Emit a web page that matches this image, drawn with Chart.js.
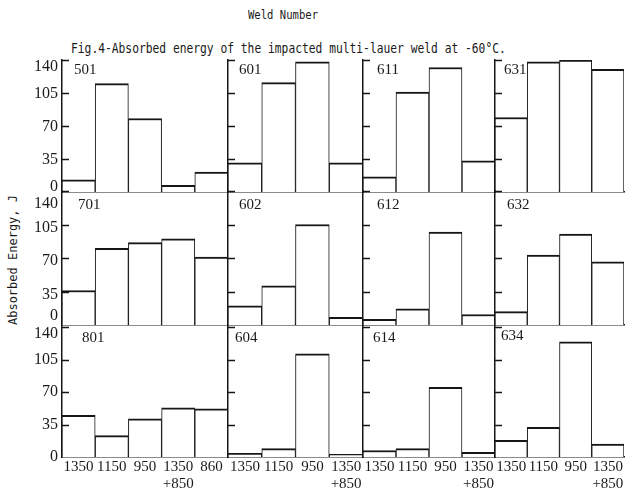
<!DOCTYPE html>
<html>
<head>
<meta charset="utf-8">
<script src="https://cdn.jsdelivr.net/npm/chart.js@4.4.1/dist/chart.umd.min.js"></script>
<style>
  html, body { margin: 0; padding: 0; background: #fff; }
  #fig { position: relative; width: 626px; height: 492px; overflow: hidden; background: #fff; }
  #fig canvas { position: absolute; }
  .txt { position: absolute; white-space: nowrap; color: #1a1a1a; font-family: "DejaVu Sans Mono", monospace; transform-origin: 0 0; }
</style>
</head>
<body>
<div id="fig">
  <div class="txt" id="head" style="font-size:13px;line-height:13px;">Weld Number</div>
  <div class="txt" id="title" style="font-size:14.5px;line-height:14.5px;">Fig.4-Absorbed energy of the impacted multi-lauer weld at -60°C.</div>
  <div class="txt" id="ylab" style="font-size:12px;line-height:12px;">Absorbed Energy, J</div>
</div>
<script>
// Heat-treatment temperatures (°C) along the bottom of each panel
const tempsFive = ['1350', '1150', '950', ['1350', '+850'], '860'];
const tempsFour = ['1350', '1150', '950', ['1350', '+850']];
const energyTicks = [0, 35, 70, 105, 140];

// Absorbed energy (J) for each weld, in temperature order
const weld501 = [13, 115, 78, 7, 21];
const weld601 = [31, 116, 138, 31];
const weld611 = [16, 106, 132, 33];
const weld631 = [79, 138, 140, 130];
const weld701 = [36, 80, 86, 90, 71];
const weld602 = [20, 41, 105, 8];
const weld612 = [6, 17, 97, 11];
const weld632 = [14, 73, 95, 66];
const weld801 = [45, 23, 41, 53, 52];
const weld604 = [4, 9, 111, 3];
const weld614 = [7, 9, 75, 5];
const weld634 = [18, 32, 124, 14];

// Grid of weld numbers, row by row
const weldNumbers = [
  ['501', '601', '611', '631'],
  ['701', '602', '612', '632'],
  ['801', '604', '614', '634']
];
const energyByWeld = {
  '501': weld501, '601': weld601, '611': weld611, '631': weld631,
  '701': weld701, '602': weld602, '612': weld612, '632': weld632,
  '801': weld801, '604': weld604, '614': weld614, '634': weld634
};

// Panel geometry (page pixels)
const colEdges = [62, 228, 363, 495, 624];
const rowTops = [60, 191, 327];
const rowBottoms = [192, 325, 457];
// vertical nudges of the y tick labels per row: [all, extra for 0, extra for 140]
const rowLabelShift = [[0.5, -6, 6], [3, -12, 10], [0, 0, 7]];
// where each weld number sits inside its panel
const tagOffsets = [
  [[12, 10], [11, 10], [14, 10], [9, 10]],
  [[16, 14], [11, 14], [14, 14], [12, 14]],
  [[20, 11], [7, 11], [10, 11], [6, 9]]
];

const INK = '#161616';
const numFont = '"Liberation Serif", "Times New Roman", serif';

// short ticks pointing into the plot from the energy axis
const innerTicks = {
  id: 'innerTicks',
  afterDraw(chart) {
    const { ctx, chartArea } = chart;
    const y = chart.scales.y;
    ctx.save();
    ctx.strokeStyle = INK;
    ctx.lineWidth = 1.5;
    energyTicks.forEach(v => {
      if (v === 0) return;
      const py = Math.round(y.getPixelForValue(v)) + 0.5;
      ctx.beginPath();
      ctx.moveTo(chartArea.left, py);
      ctx.lineTo(chartArea.left + 7, py);
      ctx.stroke();
    });
    ctx.restore();
  }
};

// weld number written in the upper-left corner of a panel
const weldTag = {
  id: 'weldTag',
  afterDraw(chart, args, opts) {
    const { ctx, chartArea } = chart;
    ctx.save();
    ctx.font = '15px ' + numFont;
    ctx.fillStyle = '#1a1a1a';
    ctx.textBaseline = 'middle';
    ctx.textAlign = 'left';
    ctx.fillText(opts.text, chartArea.left + opts.dx, chartArea.top + opts.dy);
    ctx.restore();
  }
};

const fig = document.getElementById('fig');

weldNumbers.forEach((row, r) => row.forEach((weld, c) => {
  const values = energyByWeld[weld];
  const labels = c === 0 ? tempsFive : tempsFour;
  const leftW = c === 0 ? 50 : 4;
  const bottomH = r === 2 ? 42 : 4;
  const padTop = 4, padRight = 3;
  const pw = colEdges[c + 1] - colEdges[c];
  const ph = rowBottoms[r] - rowTops[r];
  const cv = document.createElement('canvas');
  cv.width = leftW + pw + padRight;
  cv.height = padTop + ph + bottomH;
  cv.style.left = (colEdges[c] - leftW) + 'px';
  cv.style.top = (rowTops[r] - padTop) + 'px';
  fig.appendChild(cv);

  const [baseShift, zeroShift, topShift] = rowLabelShift[r];

  new Chart(cv, {
    type: 'bar',
    data: {
      labels: labels,
      datasets: [{
        data: values,
        backgroundColor: '#ffffff',
        borderColor: INK,
        borderWidth: { top: 2, left: 1, right: 1, bottom: 0 },
        borderSkipped: false,
        barPercentage: 1,
        categoryPercentage: 1
      }]
    },
    options: {
      responsive: false,
      animation: false,
      events: [],
      layout: { padding: { top: padTop, right: padRight, left: 0, bottom: 0 } },
      plugins: {
        legend: { display: false },
        tooltip: { enabled: false },
        weldTag: { text: weld, dx: tagOffsets[r][c][0], dy: tagOffsets[r][c][1] }
      },
      scales: {
        x: {
          grid: { display: false, drawTicks: false },
          border: { display: true, color: INK, width: 1.5 },
          ticks: {
            display: r === 2,
            autoSkip: false,
            maxRotation: 0,
            padding: 2,
            color: '#1a1a1a',
            font: { family: numFont, size: 15, lineHeight: '17px' }
          },
          afterFit: s => {
            s.height = bottomH;
            s.paddingLeft = 0; s.paddingRight = 0;
          }
        },
        y: {
          min: 0,
          max: 140,
          grid: { display: false, drawTicks: false },
          border: { display: true, color: INK, width: 1.5 },
          ticks: {
            display: c === 0,
            autoSkip: false,
            stepSize: 35,
            padding: 4,
            labelOffset: baseShift,
            color: '#1a1a1a',
            font: ctx => {
              const v = ctx.tick ? ctx.tick.value : null;
              let lh = 16;
              if (v === 140 && topShift) lh = 2 * Math.abs(topShift);
              if (v === 0 && zeroShift) lh = 2 * Math.abs(zeroShift);
              return { family: numFont, size: 16, lineHeight: lh + 'px' };
            },
            callback: v => {
              if (v === 140 && topShift) return ['', '140'];
              if (v === 0 && zeroShift) return ['0', ''];
              return String(v);
            }
          },
          afterFit: s => {
            s.width = leftW;
            s.paddingTop = 0; s.paddingBottom = 0;
          }
        }
      }
    },
    plugins: [innerTicks, weldTag]
  });
}));

// page headings and the rotated energy caption
function fitText(id, left, top, width) {
  const el = document.getElementById(id);
  const w = el.offsetWidth;
  el.style.left = left + 'px';
  el.style.top = top + 'px';
  el.style.transform = 'scaleX(' + (width / w) + ')';
}
fitText('head', 248, 8, 70);
fitText('title', 71, 41, 435);

(function () {
  const el = document.getElementById('ylab');
  const w = el.offsetWidth, h = el.offsetHeight;
  const cx = 13, cy = 260, len = 130;
  el.style.transformOrigin = '50% 50%';
  el.style.left = (cx - w / 2) + 'px';
  el.style.top = (cy - h / 2) + 'px';
  el.style.transform = 'rotate(-90deg) scaleX(' + (len / w) + ')';
})();
</script>
</body>
</html>
